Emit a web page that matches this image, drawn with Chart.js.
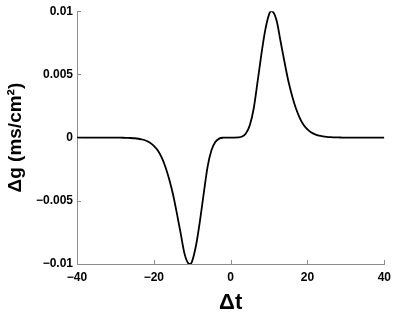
<!DOCTYPE html>
<html>
<head>
<meta charset="utf-8">
<script src="https://cdn.jsdelivr.net/npm/chart.js@4/dist/chart.umd.min.js"></script>
<style>
	html, body { margin: 0; padding: 0; background: #fff; }
	#wrap { width: 397px; height: 314px; }
</style>
</head>
<body>
<div id="wrap"><canvas id="stdp"></canvas></div>
<script>
// values (dg in ms/cm^2)
const dtValues = [
	-40, -35, -30, -29, -28, -27, -26, -25, -24, -23, -22, -21, -20, -19, -18, -17, -16, -15, -14, -13, -12, -11, -10.5, -10,
	-9, -8, -7, -6, -5, -4, -3, -2, -1, 0, 1, 2, 3, 4, 5, 6, 7, 8, 9,
	10, 10.5, 11, 12, 13, 14, 15, 16, 17, 18, 19, 20, 21, 22, 23, 24, 25, 26, 27, 28, 29, 30, 35, 40
];
const dgValues = [
	0, 0, 0, -0.000005, -0.00001, -0.00002, -0.00003, -0.00005, -0.00009, -0.00015, -0.00025, -0.0004, -0.00065, -0.001, -0.00155, -0.0023, -0.0033, -0.0045, -0.006, -0.0076, -0.0092, -0.00995, -0.01, -0.00975,
	-0.0085, -0.0066, -0.0044, -0.0023, -0.001, -0.00035, -0.00008, -0.00001, 0, 0, 0, 0.00001, 0.00008, 0.00035, 0.001, 0.0023, 0.0044, 0.0066, 0.0085,
	0.00975, 0.01, 0.00995, 0.0092, 0.0076, 0.006, 0.0045, 0.0033, 0.0023, 0.00155, 0.001, 0.00065, 0.0004, 0.00025, 0.00015, 0.00009, 0.00005, 0.00003, 0.00002, 0.00001, 0.000005, 0, 0, 0
];
const xTicks = [-40, -20, 0, 20, 40];
const yTicks = [-0.01, -0.005, 0, 0.005, 0.01];
const yTickLabels = ['\u22120.01', '\u22120.005', '0', '0.005', '0.01'];
const xTickLabels = ['\u221240', '\u221220', '0', '20', '40'];

const axisColor = '#8c8c8c';
const tickFont = { family: 'Liberation Sans, Arial, sans-serif', size: 12, weight: 'bold' };

function labelFor(list, labels, v)
{
	for (let i = 0; i < list.length; i++)
	{
		if (Math.abs(list[i] - v) < 1e-9) return labels[i];
	}
	return '';
}

// MATLAB style inward tick marks
const inwardTicks = {
	id: 'inwardTicks',
	afterDraw(chart) {
		let ctx = chart.ctx;
		let area = chart.chartArea;
		let xs = chart.scales.x;
		let ys = chart.scales.y;
		ctx.save();
		ctx.strokeStyle = axisColor;
		ctx.lineWidth = 1;
		ctx.beginPath();
		xTicks.forEach(function(v) {
			let px = Math.round(xs.getPixelForValue(v)) + 0.5;
			ctx.moveTo(px, area.bottom);
			ctx.lineTo(px, area.bottom - 4);
		});
		yTicks.forEach(function(v) {
			let py = Math.round(ys.getPixelForValue(v)) + 0.5;
			ctx.moveTo(area.left, py);
			ctx.lineTo(area.left + 4, py);
		});
		ctx.stroke();
		ctx.restore();
	}
};

let ctx = document.getElementById('stdp').getContext('2d');
new Chart(ctx, {
	type: 'scatter',
	data: {
		datasets: [{
			data: dtValues.map((t, i) => ({ x: t, y: dgValues[i] })),
			showLine: true,
			borderColor: '#000',
			borderWidth: 1.8,
			pointRadius: 0,
			cubicInterpolationMode: 'monotone',
			fill: false,
		}]
	},
	options: {
		responsive: true,
		maintainAspectRatio: false,
		animation: false,
		layout: { padding: { left: 0, right: 10, top: 6, bottom: 0 } },
		plugins: { legend: { display: false }, tooltip: { enabled: false } },
		scales: {
			x: {
				type: 'linear',
				min: -40,
				max: 40,
				afterFit: function(scale) { scale.height = 50; },
				afterBuildTicks: function(scale) { scale.ticks = xTicks.map(v => ({ value: v })); },
				grid: { drawOnChartArea: false, drawTicks: false },
				border: { color: axisColor, width: 1 },
				ticks: {
					color: '#000',
					font: tickFont,
					padding: 6,
					maxRotation: 0,
					callback: (v) => labelFor(xTicks, xTickLabels, v),
				},
				title: {
					display: true,
					text: '\u0394t',
					color: '#000',
					font: { family: 'Liberation Sans, Arial, sans-serif', size: 22, weight: 'bold', lineHeight: 1 },
					padding: { top: 0, bottom: 0 },
				},
			},
			y: {
				type: 'linear',
				min: -0.01,
				max: 0.01,
				afterFit: function(scale) { scale.width = 77; },
				afterBuildTicks: function(scale) { scale.ticks = yTicks.map(v => ({ value: v })); },
				grid: { drawOnChartArea: false, drawTicks: false },
				border: { color: axisColor, width: 1 },
				ticks: {
					color: '#000',
					font: tickFont,
					padding: 4,
					callback: (v) => labelFor(yTicks, yTickLabels, v),
				},
				title: {
					display: true,
					text: '\u0394g (ms/cm\u00b2)',
					color: '#000',
					font: { family: 'Liberation Sans, Arial, sans-serif', size: 19, weight: 'bold', lineHeight: 1 },
					padding: { top: 6, bottom: 0 },
				},
			},
		},
	},
	plugins: [inwardTicks],
});
</script>
</body>
</html>
